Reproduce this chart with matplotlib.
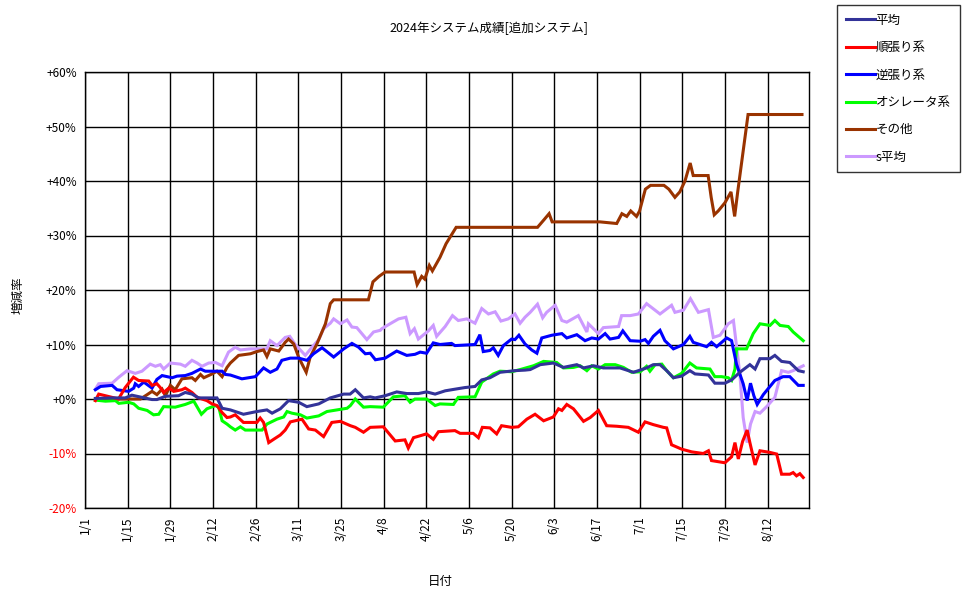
import matplotlib
matplotlib.use("Agg")
import matplotlib.pyplot as plt

plt.rcParams['font.family'] = ['Noto Sans CJK JP', 'DejaVu Sans']

# days counted from 1/1/2024, values in %
avg_days = [3.4, 8.9, 13.2, 15.4, 18.7, 22, 23.6, 26.4, 30.7, 32.9, 35.1, 37.3, 43.3, 45, 47.7,
            52, 56.4, 59.7, 61.4, 64.1, 66.8, 70.1, 72.8, 76.7, 80.5, 84.9, 87, 88.7, 91.4, 93.6,
            95.2, 98.5, 102.3, 105.6, 109.4, 112.1, 114.9, 118.2, 121.4, 124.7, 128, 130.2, 132.9,
            136.2, 141.1, 144.4, 146.1, 149.4, 153.7, 157, 161.4, 163.6, 166.9, 170.1, 175.6, 180,
            184.3, 186.5, 188.7, 190.9, 193.1, 195.8, 198.5, 200.2, 204.6, 206.7, 210, 212.2, 214.9,
            218.2, 219.9, 221.5, 224.8, 226.4, 228.6, 231.3, 234.1, 235.7]
avg_vals = [0.1, 0.2, 0.2, 0.7, 0.3, -0.1, -0.1, 0.5, 0.6, 1.2, 0.9, 0.2, 0.2, -1.7, -2.0,
            -2.8, -2.3, -2.0, -2.6, -1.8, -0.3, -0.6, -1.4, -0.9, 0.2, 0.9, 0.9, 1.7, 0.2, 0.4,
            0.2, 0.6, 1.3, 1.0, 1.0, 1.3, 0.9, 1.5, 1.8, 2.1, 2.3, 3.5, 3.9,
            4.9, 5.2, 5.3, 5.4, 6.3, 6.6, 5.8, 6.3, 5.7, 6.1, 5.7, 5.7, 4.9,
            5.7, 6.3, 6.3, 5.2, 3.9, 4.2, 5.2, 4.6, 4.4, 2.9, 2.9, 3.5, 4.9,
            6.3, 5.5, 7.4, 7.4, 8.0, 6.9, 6.7, 5.2, 5.0]

trend_days = [3.4, 4.5, 6.7, 8.9, 11, 13.2, 15.9, 17.6, 20.9, 22, 23.6, 24.7, 25.8, 27.5, 29.1,
              31.8, 32.9, 35.1, 36.8, 38.4, 40, 41.7, 43.3, 45, 46.6, 47.7, 49.3, 52, 56.4, 57.5,
              58.6, 60.3, 61.9, 64.1, 65.7, 67.4, 71.2, 73.4, 75.6, 78.3, 81, 83.8, 87.1, 88.7,
              91.4, 93.6, 97.9, 101.8, 105, 106.1, 107.8, 112.1, 114.3, 116, 121.4, 123.1, 127.4,
              129.1, 130.4, 132.9, 135.1, 136.7, 140, 142.2, 145, 147.7, 150.5, 153.7, 155.4,
              156.5, 158.1, 160.3, 163.6, 165.8, 168.5, 171.2, 174.5, 178.3, 181.6, 183.8, 186.5,
              189.8, 190.9, 192.5, 195.8, 199.1, 202.9, 204.6, 205.6, 210, 212.2, 213.3, 214.4,
              215.8, 217.3, 218.2, 219.9, 221.5, 224.8, 227, 228.6, 231.3, 232.4, 233.5, 234.6, 235.7]
trend_vals = [-0.3, 0.9, 0.6, 0.3, 0.0, 2.1, 4.0, 3.4, 3.3, 2.5, 2.8, 2.1, 1.2, 2.0, 1.4,
              1.7, 2.0, 1.2, 0.3, 0.0, -0.3, -0.9, -1.2, -2.5, -3.4, -3.3, -2.9, -4.3, -4.3, -3.5,
              -4.3, -8.0, -7.4, -6.6, -5.7, -4.2, -3.7, -5.5, -5.7, -6.9, -4.3, -4.1, -4.9, -5.2,
              -6.1, -5.2, -5.1, -7.7, -7.5, -9.0, -7.1, -6.4, -7.4, -6.0, -5.8, -6.3, -6.3,
              -7.1, -5.2, -5.3, -6.4, -4.9, -5.2, -5.1, -3.7, -2.8, -4.0, -3.3, -1.8,
              -2.1, -1.0, -1.8, -4.1, -3.4, -2.1, -4.9, -5.0, -5.2, -6.1, -4.2, -4.7,
              -5.2, -5.3, -8.4, -9.2, -9.7, -10.0, -9.5, -11.3, -11.7, -10.6, -8.0, -11.0,
              -7.8, -5.7, -8.0, -12.1, -9.5, -9.8, -10.1, -13.8, -13.8, -13.5, -14.1, -13.7, -14.4]

contra_days = [3.4, 5.1, 8.9, 10.5, 14.3, 16, 16.5, 17.6, 19.3, 22, 23.6, 25.3, 28.6, 30.2, 32.9,
               35.1, 37.9, 39.5, 45, 46.1, 47.7, 51.5, 55.9, 58.6, 60.8, 63, 64.6, 67.4, 70.1,
               72.8, 75, 77.8, 81.6, 84.9, 87.6, 89.8, 92, 93.6, 95.3, 98.5, 102.3, 105.6, 108.3,
               110, 112.1, 114.3, 116.5, 120.3, 121.4, 128, 129.6, 130.7, 132.9, 134, 135.6,
               137.3, 140, 141.1, 142.4, 144.4, 146.6, 148.3, 149.9, 153.2, 156.5, 158.1, 161.4,
               164.1, 166.3, 168.5, 170.7, 172.3, 175.1, 176.5, 178.9, 182.2, 183.8, 184.9, 186.5,
               188.7, 190.3, 193.1, 196.4, 198.5, 199.6, 204, 205.6, 207.3, 210.6, 212.2, 213.8,
               216, 217.3, 218.4, 219.5, 220.6, 222.6, 226.4, 229.1, 231.3, 234.1, 235.7]
contra_vals = [1.7, 2.3, 2.5, 1.7, 1.4, 2.0, 2.8, 2.3, 3.1, 2.0, 3.6, 4.3, 3.9, 4.2, 4.3,
               4.7, 5.5, 5.1, 5.1, 4.5, 4.4, 3.7, 4.1, 5.7, 4.9, 5.5, 7.1, 7.5, 7.5,
               7.1, 8.3, 9.4, 7.7, 9.2, 10.2, 9.5, 8.3, 8.4, 7.2, 7.5, 8.8, 8.0, 8.2,
               8.6, 8.4, 10.3, 10.0, 10.2, 9.8, 10.0, 11.8, 8.7, 8.9, 9.4, 8.0,
               9.8, 11.0, 10.9, 11.7, 10.1, 9.0, 8.4, 11.2, 11.7, 12.0, 11.2, 11.8,
               10.7, 11.2, 11.0, 12.0, 11.0, 11.3, 12.5, 10.7, 10.6, 10.9, 10.2, 11.5,
               12.6, 10.7, 9.2, 10.0, 11.5, 10.4, 9.6, 10.4, 9.6, 11.2, 10.7, 6.4,
               2.8, -0.3, 2.9, 0.6, -1.0, 0.8, 3.4, 4.1, 4.1, 2.5, 2.5]

osc_days = [3.4, 6.7, 10, 11.1, 14.3, 16, 17.6, 20.4, 22.5, 24.2, 25.8, 29.6, 32.9, 35.7, 38.2,
            40, 42.8, 43.9, 45, 46.6, 47.7, 49.3, 51, 52.6, 58.1, 59.7, 63, 65.2, 66.3, 67.9,
            70.7, 72.8, 76.7, 79.4, 82.7, 86, 87.1, 88.7, 91.4, 93.6, 97.9, 101.2, 105, 106.7,
            108.3, 112.1, 114.9, 116.5, 120.9, 122.5, 128, 130.2, 134, 136.2, 140, 142.8, 147.2,
            150.5, 154.8, 157, 160.3, 162.5, 164.7, 166.3, 168.5, 170.7, 174, 176.7, 179.4, 182.2,
            184.3, 185.4, 187.1, 189.3, 190.9, 193.1, 195.8, 198.5, 200.7, 205.1, 206.7, 208.9,
            211.1, 212.2, 213.3, 213.8, 217.1, 219.3, 221.5, 224.8, 226.4, 228.1, 230.8, 232.4,
            235.7]
osc_vals = [-0.2, -0.4, -0.3, -0.8, -0.6, -0.9, -1.7, -2.1, -2.9, -2.8, -1.4, -1.5, -1.0, -0.4, -2.8,
            -1.8, -1.2, -1.5, -4.0, -4.6, -5.1, -5.7, -5.1, -5.7, -5.7, -4.6, -3.7, -3.3, -2.3, -2.6,
            -2.9, -3.5, -3.1, -2.3, -2.0, -1.7, -1.2, 0.0, -1.5, -1.4, -1.5, 0.4, 0.6, -0.6,
            0.0, 0.0, -1.2, -0.9, -1.0, 0.3, 0.4, 3.1, 4.6, 5.1, 5.0, 5.4, 6.1,
            6.9, 6.7, 5.7, 5.8, 6.1, 5.2, 6.1, 5.5, 6.3, 6.3, 5.8, 4.9, 5.0,
            6.0, 5.1, 6.3, 6.4, 5.2, 3.9, 4.7, 6.6, 5.7, 5.5, 4.1, 4.1,
            3.9, 3.4, 5.5, 9.2, 9.2, 12.0, 13.8, 13.5, 14.4, 13.5, 13.3, 12.3,
            10.7]

other_days = [3.4, 18.2, 20.4, 22, 23.6, 25.3, 26.4, 28, 29.6, 31.8, 35.1, 36.2, 37.9, 39, 41.7,
              43.3, 45, 46.6, 47.7, 50.4, 54.3, 56.4, 58.6, 59.7, 60.8, 63.6, 65.7, 66.8, 68.5,
              70.1, 71.5, 72.6, 73.9, 76.1, 78.9, 80.5, 81.6, 93, 94.5, 96.5, 98.5, 108, 109,
              110.5, 111.5, 113, 114, 116.5, 118.5, 121.8, 148.5, 150.8, 152.3, 153.3, 169, 174.5,
              176.2, 177.8, 179.1, 181, 182, 183.9, 185.6, 190, 191.6, 193.6, 195.2, 196.9, 198.6,
              199.6, 204.5, 205.5, 206.5, 207.8, 210, 212, 213.2, 214.2, 217.6, 235.3]
other_vals = [0.0, 0.0, 0.8, 1.4, 0.8, 1.8, 0.6, 2.5, 1.7, 3.7, 3.9, 3.4, 4.5, 3.9, 4.6,
              5.1, 4.1, 5.8, 6.6, 8.0, 8.3, 8.7, 9.0, 7.8, 9.2, 8.8, 10.4, 11.0, 10.1,
              7.7, 6.1, 4.9, 7.7, 10.1, 13.8, 17.5, 18.2, 18.2, 21.5, 22.5, 23.3, 23.3, 21.0,
              22.5, 22.0, 24.5, 23.5, 26.0, 28.5, 31.5, 31.5, 33.0, 34.0, 32.5, 32.5, 32.2,
              34.0, 33.5, 34.5, 33.5, 34.5, 38.5, 39.2, 39.2, 38.5, 37.0, 38.0, 40.0, 43.3,
              41.0, 41.0, 37.0, 33.8, 34.5, 36.0, 38.0, 33.5, 38.0, 52.2, 52.2]

savg_days = [3.4, 4.5, 8.9, 11.1, 13.8, 16.5, 18.7, 21.4, 23.1, 24.7, 25.8, 28, 31.3, 32.9, 35.1,
             36.8, 38.4, 40.6, 42.8, 45, 47.1, 49.3, 51, 54.3, 59.7, 60.8, 63, 65.7, 67.2, 69,
             72.3, 74.5, 76.7, 78.3, 80.5, 81.6, 83.8, 86, 87.6, 89.2, 92.5, 94.7, 96.9, 97.4,
             100.1, 102.9, 105.3, 106.7, 108.1, 109.4, 112.7, 114.3, 115.4, 118.2, 120.6, 122.5,
             125.3, 128, 130.2, 132.4, 134.6, 136.5, 138.9, 141.1, 142.8, 144.4, 146.1, 148.5,
             150.2, 151.5, 154.3, 156.5, 158.1, 161.9, 164.7, 165.2, 168.5, 170.1, 175.1, 176.1,
             178.9, 181.6, 184.3, 188.7, 192.5, 193.6, 196.4, 198.7, 201.3, 204.6, 206.2, 208.4,
             211.1, 212.8, 213.6, 214.9, 216, 217.3, 218.4, 219.9, 221.5, 223.7, 226.4, 228.6,
             230.8, 232.4, 235.7]
savg_vals = [1.8, 2.8, 2.9, 4.0, 5.2, 4.7, 5.1, 6.4, 6.0, 6.3, 5.5, 6.6, 6.4, 6.0, 7.1,
             6.6, 6.0, 6.6, 6.7, 6.1, 8.6, 9.5, 9.0, 9.2, 9.2, 10.7, 9.8, 11.3, 11.5, 10.0,
             8.0, 9.5, 10.9, 12.9, 13.9, 14.7, 13.8, 14.5, 13.2, 13.1, 10.9, 12.3, 12.6, 12.9,
             13.8, 14.7, 15.0, 12.0, 12.9, 11.0, 12.5, 13.5, 11.5, 13.3, 15.3, 14.4,
             14.7, 13.9, 16.6, 15.6, 16.0, 14.3, 14.7, 15.6, 13.9, 15.0, 15.9, 17.4,
             14.9, 15.9, 17.2, 14.4, 14.1, 15.3, 12.3, 13.8, 12.0, 13.1, 13.3, 15.3,
             15.3, 15.6, 17.5, 15.6, 17.2, 15.9, 16.3, 18.4, 15.9, 16.4, 11.3, 11.7,
             13.8, 14.4, 10.7, 4.6, -3.4, -8.0, -4.6, -2.3, -2.6, -1.4, 0.3, 5.2,
             4.9, 5.2, 6.1]

tick_days = [0, 14, 28, 42, 56, 70, 84, 98, 112, 126, 140, 154, 168, 182, 196, 210, 224]
tick_labels = ['1/1', '1/15', '1/29', '2/12', '2/26', '3/11', '3/25', '4/8', '4/22', '5/6',
               '5/20', '6/3', '6/17', '7/1', '7/15', '7/29', '8/12']
y_ticks = [-20, -10, 0, 10, 20, 30, 40, 50, 60]

series = [
    ('平均', avg_days, avg_vals, '#333399'),
    ('順張り系', trend_days, trend_vals, '#FF0000'),
    ('逆張り系', contra_days, contra_vals, '#0000FF'),
    ('オシレータ系', osc_days, osc_vals, '#00FF00'),
    ('その他', other_days, other_vals, '#993300'),
    ('s平均', savg_days, savg_vals, '#CC99FF'),
]

fig = plt.figure(figsize=(9.76, 5.99), dpi=100)
ax = fig.add_axes([85 / 976, 1 - 508 / 599, 724 / 976, 436 / 599])

# draw in reverse so 平均 sits on top like the original
handles = {}
for name, d, v, c in reversed(series):
    ln, = ax.plot(d, v, color=c, lw=2.2, solid_joinstyle='miter')
    handles[name] = ln

ax.set_xlim(0, 237.6)
ax.set_ylim(-20, 60)
ax.set_xticks(tick_days)
ax.set_xticklabels(tick_labels, rotation=90, fontsize=8.5)
ax.set_yticks(y_ticks)
ax.set_yticklabels([('%+d%%' % t) if t != 0 else '+0%' for t in y_ticks], fontsize=8.5)
for lab, t in zip(ax.get_yticklabels(), y_ticks):
    if t < 0:
        lab.set_color('red')
ax.tick_params(length=0, pad=6)
ax.grid(True, color='black', lw=1)
for s in ax.spines.values():
    s.set_color('black')
    s.set_linewidth(1)

fig.text(489 / 976, 1 - 28 / 599, '2024年システム成績[追加システム]', ha='center', va='center', fontsize=9)
fig.text(18 / 976, 1 - 295 / 599, '増減率', rotation=90, ha='center', va='center', fontsize=9)
fig.text(440 / 976, 1 - 582 / 599, '日付', ha='center', va='center', fontsize=9)

names = [s[0] for s in series]
leg = fig.legend([handles[n] for n in names], names, loc='upper left',
                 bbox_to_anchor=(837 / 976, 1 - 5 / 599), fontsize=9, frameon=True,
                 fancybox=False, edgecolor='black', handlelength=2.3, handletextpad=0.1,
                 labelspacing=1.15, borderpad=0.7, borderaxespad=0)
leg.get_frame().set_linewidth(1)

fig.savefig('out.png', dpi=100)
